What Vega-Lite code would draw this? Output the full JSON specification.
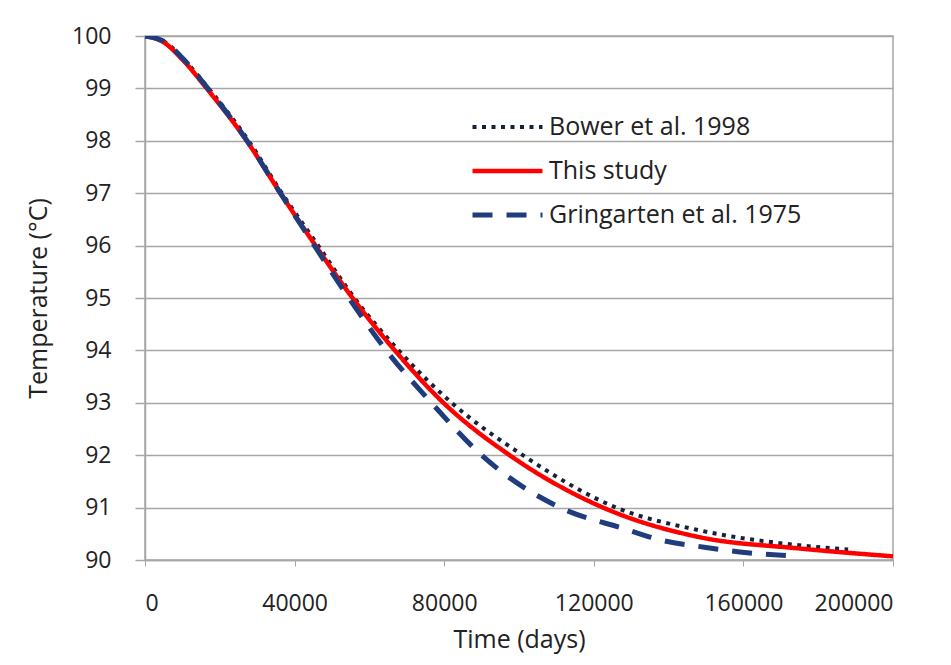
{
  "$schema": "https://vega.github.io/schema/vega-lite/v6.json",
  "width": 748,
  "height": 524,
  "autosize": {"type": "none"},
  "padding": {"left": 145, "top": 36, "right": 58, "bottom": 105},
  "background": "white",
  "config": {
    "font": "Open Sans",
    "view": {"stroke": "#a6a6a6", "strokeWidth": 1.5}
  },
  "data": {
    "values": [
      {"series": "Bower et al. 1998", "t": 0, "T": 100},
      {"series": "Bower et al. 1998", "t": 5000, "T": 99.9},
      {"series": "Bower et al. 1998", "t": 10000, "T": 99.58},
      {"series": "Bower et al. 1998", "t": 17000, "T": 99.0},
      {"series": "Bower et al. 1998", "t": 27700, "T": 98.0},
      {"series": "Bower et al. 1998", "t": 36600, "T": 97.0},
      {"series": "Bower et al. 1998", "t": 46300, "T": 96.0},
      {"series": "Bower et al. 1998", "t": 56000, "T": 95.0},
      {"series": "Bower et al. 1998", "t": 67800, "T": 94.0},
      {"series": "Bower et al. 1998", "t": 82000, "T": 93.0},
      {"series": "Bower et al. 1998", "t": 101000, "T": 92.0},
      {"series": "Bower et al. 1998", "t": 126000, "T": 91.0},
      {"series": "Bower et al. 1998", "t": 148000, "T": 90.57},
      {"series": "Bower et al. 1998", "t": 175000, "T": 90.28},
      {"series": "Bower et al. 1998", "t": 188000, "T": 90.2},
      {"series": "This study", "t": 0, "T": 100},
      {"series": "This study", "t": 5000, "T": 99.88},
      {"series": "This study", "t": 10000, "T": 99.55},
      {"series": "This study", "t": 16500, "T": 99.0},
      {"series": "This study", "t": 27200, "T": 98.0},
      {"series": "This study", "t": 36200, "T": 97.0},
      {"series": "This study", "t": 45600, "T": 96.0},
      {"series": "This study", "t": 55500, "T": 95.0},
      {"series": "This study", "t": 66800, "T": 94.0},
      {"series": "This study", "t": 79800, "T": 93.0},
      {"series": "This study", "t": 97500, "T": 92.0},
      {"series": "This study", "t": 122500, "T": 91.0},
      {"series": "This study", "t": 148000, "T": 90.44},
      {"series": "This study", "t": 175000, "T": 90.22},
      {"series": "This study", "t": 200000, "T": 90.07},
      {"series": "Gringarten et al. 1975", "t": 0, "T": 100},
      {"series": "Gringarten et al. 1975", "t": 5000, "T": 99.9},
      {"series": "Gringarten et al. 1975", "t": 10000, "T": 99.58},
      {"series": "Gringarten et al. 1975", "t": 16800, "T": 99.0},
      {"series": "Gringarten et al. 1975", "t": 27300, "T": 98.0},
      {"series": "Gringarten et al. 1975", "t": 36200, "T": 97.0},
      {"series": "Gringarten et al. 1975", "t": 45300, "T": 96.0},
      {"series": "Gringarten et al. 1975", "t": 54500, "T": 95.0},
      {"series": "Gringarten et al. 1975", "t": 64500, "T": 94.0},
      {"series": "Gringarten et al. 1975", "t": 76600, "T": 93.0},
      {"series": "Gringarten et al. 1975", "t": 90000, "T": 92.0},
      {"series": "Gringarten et al. 1975", "t": 111000, "T": 91.0},
      {"series": "Gringarten et al. 1975", "t": 128000, "T": 90.6},
      {"series": "Gringarten et al. 1975", "t": 138000, "T": 90.38},
      {"series": "Gringarten et al. 1975", "t": 150000, "T": 90.24},
      {"series": "Gringarten et al. 1975", "t": 161000, "T": 90.14},
      {"series": "Gringarten et al. 1975", "t": 175000, "T": 90.07}
    ]
  },
  "mark": {"type": "line", "interpolate": "monotone", "clip": true},
  "encoding": {
    "x": {
      "field": "t",
      "type": "quantitative",
      "scale": {"domain": [0, 200000], "nice": false},
      "axis": {
        "title": "Time (days)",
        "values": [0, 40000, 80000, 120000, 160000, 200000],
        "format": "d",
        "grid": false,
        "domainColor": "#a6a6a6",
        "domainWidth": 1.5,
        "tickColor": "#a6a6a6",
        "tickSize": 6,
        "tickWidth": 1,
        "labelFontSize": 23,
        "labelColor": "#222222",
        "labelPadding": 26,
        "titleFontSize": 25,
        "titleColor": "#222222",
        "titleFontWeight": "normal",
        "titlePadding": 12
      }
    },
    "y": {
      "field": "T",
      "type": "quantitative",
      "scale": {"domain": [90, 100], "nice": false, "zero": false},
      "axis": {
        "title": "Temperature (°C)",
        "values": [90, 91, 92, 93, 94, 95, 96, 97, 98, 99, 100],
        "grid": true,
        "gridColor": "#a6a6a6",
        "gridWidth": 1.5,
        "domainColor": "#a6a6a6",
        "domainWidth": 1.5,
        "tickColor": "#a6a6a6",
        "tickSize": 10,
        "tickWidth": 1.5,
        "labelFontSize": 23,
        "labelColor": "#222222",
        "labelPadding": 24,
        "titleFontSize": 25,
        "titleColor": "#222222",
        "titleFontWeight": "normal",
        "titlePadding": 20
      }
    },
    "color": {
      "field": "series",
      "type": "nominal",
      "scale": {
        "domain": ["Bower et al. 1998", "This study", "Gringarten et al. 1975"],
        "range": ["#15223d", "#ff0000", "#1f3c7c"]
      },
      "legend": {
        "orient": "none",
        "legendX": 325,
        "legendY": 69,
        "title": null,
        "symbolType": "stroke",
        "symbolSize": 4900,
        "labelFontSize": 25,
        "labelColor": "#222222",
        "labelOffset": 4,
        "labelLimit": 0,
        "clipHeight": 44,
        "rowPadding": 0
      }
    },
    "strokeDash": {
      "field": "series",
      "type": "nominal",
      "scale": {
        "domain": ["Bower et al. 1998", "This study", "Gringarten et al. 1975"],
        "range": [[4, 5.5], [1, 0], [20, 14]]
      },
      "legend": null
    },
    "strokeWidth": {
      "field": "series",
      "type": "nominal",
      "scale": {
        "domain": ["Bower et al. 1998", "This study", "Gringarten et al. 1975"],
        "range": [4, 5, 5]
      },
      "legend": null
    }
  }
}
